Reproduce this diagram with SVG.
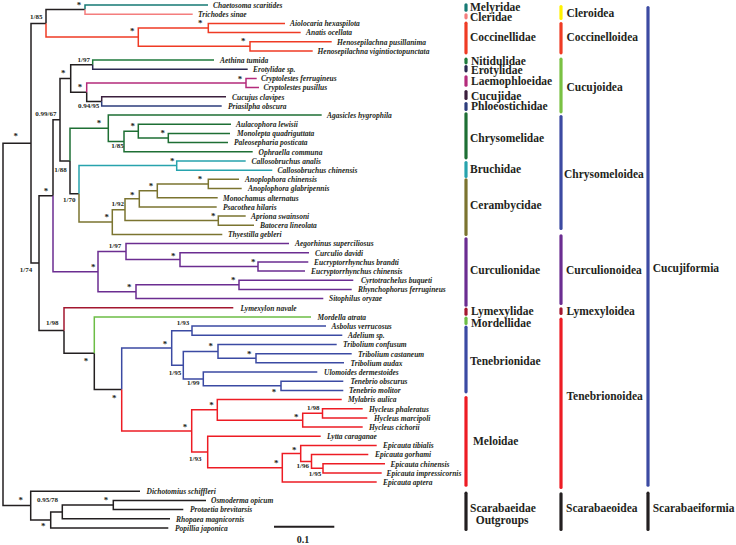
<svg xmlns="http://www.w3.org/2000/svg" width="736" height="545" viewBox="0 0 736 545">
<style>
.e{fill:none;stroke-width:1.5;stroke-linejoin:miter}
.blk{stroke:#231f20}.mel{stroke:#167a74}.cle{stroke:#f47d7d}.coc{stroke:#ef3b24}.nit{stroke:#1f7a3c}.ero{stroke:#2a2850}.lae{stroke:#b42b7b}.cuc{stroke:#3b1f3d}.phl{stroke:#2d3d7c}.chr{stroke:#1e6f34}.bru{stroke:#27a3ad}.cer{stroke:#7b7430}.cur{stroke:#6b2d91}.lym{stroke:#a3172f}.mor{stroke:#6cbd45}.ten{stroke:#3b4aa3}.mlo{stroke:#ed1c24}.yel{stroke:#fff200}.cug{stroke:#7ac143}.chb{stroke:#3c4aa2}
.bar{stroke-width:3.2;stroke-linecap:round}
.t{font-family:"Liberation Serif",serif;font-weight:bold;font-style:italic;font-size:7.5px;fill:#231f20}
.n{font-family:"Liberation Serif",serif;font-weight:bold;font-size:7px;text-anchor:middle;fill:#231f20}
.s{font-family:"Liberation Serif",serif;font-weight:bold;font-size:9px;text-anchor:middle;fill:#231f20}
.f{font-family:"Liberation Serif",serif;font-weight:bold;font-size:11.5px;fill:#231f20}
</style>
<rect width="736" height="545" fill="#ffffff"/>
<g id="connectors">
<path class="e blk" d="M3 324.4V143.25H31M3 324.4V505.6H30.7M31 143.25V23.4H46M31 143.25V263.1H39M46 23.4V9.6H85M39 263.1V195.7H53M39 263.1V330.5H64M53 195.7V119.7H60M60 119.7V78.4H70.7M60 119.7V161.05H70M70.7 78.4V64.7H92.7M70.7 78.4V92.2H86.7M86.7 92.2V101.4H101.7M70 161.05V193.8H79M64 330.5V353.2H94.3M94.3 353.2V389.4H121.7M30.7 505.6V491.3H140M30.7 505.6V519.95H50.7M50.7 519.95V511.9H62.3M50.7 519.95V528H168.3M62.3 511.9V505.05H113.3M62.3 511.9V518.8H170M113.3 505.05V500.5H206M113.3 505.05V509.6H183.3"/>
<path class="e mel" d="M85 9.6V5H208"/>
<path class="e cle" d="M85 9.6V14.2H192.7"/>
<path class="e coc" d="M46 23.4V37.1H138.3M138.3 37.1V28H208.3M138.3 37.1V46.3H250M208.3 28V23.4H285M208.3 28V32.5H300.7M250 46.3V41.7H331.7M250 46.3V50.9H312.7"/>
<path class="e nit" d="M92.7 64.7V60.1H214"/>
<path class="e ero" d="M92.7 64.7V69.2H247.7"/>
<path class="e lae" d="M86.7 92.2V83H246M246 83V78.4H256.7M246 83V87.6H259"/>
<path class="e cuc" d="M101.7 101.4V96.8H226"/>
<path class="e phl" d="M101.7 101.4V105.9H221.7"/>
<path class="e chr" d="M70 161.05V128.3H108.3M108.3 128.3V115.1H321.7M108.3 128.3V141.5H124M124 141.5V131.2H138.3M124 141.5V151.8H252.7M138.3 131.2V124.3H231M138.3 131.2V138.05H168.3M168.3 138.05V133.5H230M168.3 138.05V142.6H228"/>
<path class="e bru" d="M79 193.8V165.6H176.7M176.7 165.6V161H245.7M176.7 165.6V170.2H272.3"/>
<path class="e cer" d="M79 193.8V222.05H112.3M112.3 222.05V209.7H125M112.3 222.05V234.4H222.3M125 209.7V198.85H139.3M125 209.7V220.6H218.3M139.3 198.85V190.8H157.3M139.3 198.85V206.9H216.7M157.3 190.8V183.9H208.3M157.3 190.8V197.7H217.7M208.3 183.9V179.3H239M208.3 183.9V188.5H241.7M218.3 220.6V216H245.7M218.3 220.6V225.2H254"/>
<path class="e cur" d="M53 195.7V271.65H98M98 271.65V251.6H126M98 271.65V291.7H136M126 251.6V243.6H289M126 251.6V259.6H180M180 259.6V252.7H309M180 259.6V266.5H258M258 266.5V261.9H308.3M258 266.5V271.1H305M136 291.7V284.85H239M136 291.7V298.6H323.3M239 284.85V280.3H353.3M239 284.85V289.4H351.7"/>
<path class="e lym" d="M64 330.5V307.8H233.3"/>
<path class="e mor" d="M94.3 353.2V317H311"/>
<path class="e ten" d="M121.7 389.4V347.9H171.7M171.7 347.9V330.7H192M171.7 347.9V365.15H183.3M192 330.7V326.1H326M192 330.7V335.3H342.3M183.3 365.15V351.4H218M183.3 365.15V378.9H203.3M218 351.4V344.5H336.7M218 351.4V358.25H256M256 358.25V353.7H351.7M256 358.25V362.8H344M203.3 378.9V372H317.3M203.3 378.9V385.8H281M281 385.8V381.2H343.3M281 385.8V390.4H343.3"/>
<path class="e mlo" d="M121.7 389.4V430.9H191.7M191.7 430.9V409.85H217.3M191.7 430.9V452H207.7M217.3 409.85V399.5H341.7M217.3 409.85V420.2H302.7M302.7 420.2V413.3H322.5M302.7 420.2V427.1H362.7M322.5 413.3V408.7H362.7M322.5 413.3V417.9H367.3M207.7 452V436.2H320.7M207.7 452V467.8H282.3M282.3 467.8V453.45H300.7M282.3 467.8V482.1H376.7M300.7 453.45V445.4H376.7M300.7 453.45V461.5H311.5M311.5 461.5V454.6H368.3M311.5 461.5V468.35H323M323 468.35V463.8H385M323 468.35V472.9H381.7"/>
</g>
<g id="support">
<text class="n" x="36.3" y="19.4">1/85</text>
<text class="n" x="83.7" y="61.7">1/97</text>
<text class="n" x="88.7" y="108.4">0.94/95</text>
<text class="n" x="45.8" y="115.7">0.99/67</text>
<text class="n" x="117.5" y="148.4">1/85</text>
<text class="n" x="60.5" y="171.7">1/88</text>
<text class="n" x="69.2" y="201.7">1/70</text>
<text class="n" x="117.8" y="205.7">1/92</text>
<text class="n" x="115" y="248.1">1/97</text>
<text class="n" x="26" y="271.7">1/74</text>
<text class="n" x="52.2" y="325.1">1/98</text>
<text class="n" x="183" y="325.1">1/93</text>
<text class="n" x="175" y="375.1">1/95</text>
<text class="n" x="193.3" y="385.1">1/99</text>
<text class="n" x="313.3" y="410.1">1/98</text>
<text class="n" x="195.3" y="460.7">1/93</text>
<text class="n" x="302.7" y="468.4">1/96</text>
<text class="n" x="315" y="476.4">1/95</text>
<text class="n" x="47.5" y="502.4">0.95/78</text>
<text class="s" x="79" y="7.7">*</text>
<text class="s" x="200.3" y="26.1">*</text>
<text class="s" x="243.3" y="44.4">*</text>
<text class="s" x="132.3" y="34.4">*</text>
<text class="s" x="63.3" y="76.1">*</text>
<text class="s" x="80" y="90.4">*</text>
<text class="s" x="240" y="81.7">*</text>
<text class="s" x="99" y="126.1">*</text>
<text class="s" x="132.7" y="128.7">*</text>
<text class="s" x="162.7" y="136.1">*</text>
<text class="s" x="172.3" y="163.7">*</text>
<text class="s" x="200" y="181.7">*</text>
<text class="s" x="151" y="189.4">*</text>
<text class="s" x="132.3" y="197.7">*</text>
<text class="s" x="213.3" y="218.7">*</text>
<text class="s" x="106.7" y="220.4">*</text>
<text class="s" x="46" y="194.4">*</text>
<text class="s" x="15.7" y="139.4">*</text>
<text class="s" x="93.3" y="270.4">*</text>
<text class="s" x="173.3" y="258.7">*</text>
<text class="s" x="253.3" y="265.4">*</text>
<text class="s" x="233.3" y="282.7">*</text>
<text class="s" x="129.3" y="290.1">*</text>
<text class="s" x="86" y="364.4">*</text>
<text class="s" x="114.3" y="401.1">*</text>
<text class="s" x="165" y="347.1">*</text>
<text class="s" x="210.7" y="349.4">*</text>
<text class="s" x="249.3" y="357.1">*</text>
<text class="s" x="274" y="395.1">*</text>
<text class="s" x="211.5" y="408.4">*</text>
<text class="s" x="296.3" y="419.9">*</text>
<text class="s" x="185" y="430.1">*</text>
<text class="s" x="276.2" y="466.4">*</text>
<text class="s" x="294.2" y="452.7">*</text>
<text class="s" x="20.7" y="502.7">*</text>
<text class="s" x="106" y="502.7">*</text>
<text class="s" x="43.3" y="529.4">*</text>
</g>
<g id="leaf1"><text class="t" x="213" y="7.8">Chaetosoma scaritides</text></g>
<g id="leaf2"><text class="t" x="198" y="17">Trichodes sinae</text></g>
<g id="leaf3"><text class="t" x="290" y="26.2">Aiolocaria hexaspilota</text></g>
<g id="leaf4"><text class="t" x="306" y="35.3">Anatis ocellata</text></g>
<g id="leaf5"><text class="t" x="337" y="44.5">Henosepilachna pusillanima</text></g>
<g id="leaf6"><text class="t" x="317.5" y="53.7">Henosepilachna vigintioctopunctata</text></g>
<g id="leaf7"><text class="t" x="220" y="62.9">Aethina tumida</text></g>
<g id="leaf8"><text class="t" x="253" y="72">Erotylidae sp.</text></g>
<g id="leaf9"><text class="t" x="261" y="81.2">Cryptolestes ferrugineus</text></g>
<g id="leaf10"><text class="t" x="263.5" y="90.4">Cryptolestes pusillus</text></g>
<g id="leaf11"><text class="t" x="232" y="99.6">Cucujus clavipes</text></g>
<g id="leaf12"><text class="t" x="228" y="108.7">Priasilpha obscura</text></g>
<g id="leaf13"><text class="t" x="327" y="117.9">Agasicles hygrophila</text></g>
<g id="leaf14"><text class="t" x="236" y="127.1">Aulacophora lewisii</text></g>
<g id="leaf15"><text class="t" x="237" y="136.3">Monolepta quadriguttata</text></g>
<g id="leaf16"><text class="t" x="234" y="145.4">Paleosepharia posticata</text></g>
<g id="leaf17"><text class="t" x="258.5" y="154.6">Ophraella communa</text></g>
<g id="leaf18"><text class="t" x="251.5" y="163.8">Callosobruchus analis</text></g>
<g id="leaf19"><text class="t" x="277.5" y="173">Callosobruchus chinensis</text></g>
<g id="leaf20"><text class="t" x="245" y="182.1">Anoplophora chinensis</text></g>
<g id="leaf21"><text class="t" x="248" y="191.3">Anoplophora glabripennis</text></g>
<g id="leaf22"><text class="t" x="223" y="200.5">Monochamus alternatus</text></g>
<g id="leaf23"><text class="t" x="223" y="209.7">Psacothea hilaris</text></g>
<g id="leaf24"><text class="t" x="251" y="218.8">Apriona swainsoni</text></g>
<g id="leaf25"><text class="t" x="260" y="228">Batocera lineolata</text></g>
<g id="leaf26"><text class="t" x="228" y="237.2">Thyestilla gebleri</text></g>
<g id="leaf27"><text class="t" x="295" y="246.4">Aegorhinus superciliosus</text></g>
<g id="leaf28"><text class="t" x="315" y="255.5">Curculio davidi</text></g>
<g id="leaf29"><text class="t" x="314" y="264.7">Eucryptorrhynchus brandti</text></g>
<g id="leaf30"><text class="t" x="311" y="273.9">Eucryptorrhynchus chinensis</text></g>
<g id="leaf31"><text class="t" x="361" y="283.1">Cyrtotrachelus buqueti</text></g>
<g id="leaf32"><text class="t" x="358" y="292.2">Rhynchophorus ferrugineus</text></g>
<g id="leaf33"><text class="t" x="329" y="301.4">Sitophilus oryzae</text></g>
<g id="leaf34"><text class="t" x="240.5" y="310.6">Lymexylon navale</text></g>
<g id="leaf35"><text class="t" x="317.5" y="319.8">Mordella atrata</text></g>
<g id="leaf36"><text class="t" x="331.5" y="328.9">Asbolus verrucosus</text></g>
<g id="leaf37"><text class="t" x="348" y="338.1">Adelium sp.</text></g>
<g id="leaf38"><text class="t" x="343" y="347.3">Tribolium confusum</text></g>
<g id="leaf39"><text class="t" x="358" y="356.5">Tribolium castaneum</text></g>
<g id="leaf40"><text class="t" x="350.5" y="365.6">Tribolium audax</text></g>
<g id="leaf41"><text class="t" x="324" y="374.8">Ulomoides dermestoides</text></g>
<g id="leaf42"><text class="t" x="350.5" y="384">Tenebrio obscurus</text></g>
<g id="leaf43"><text class="t" x="349" y="393.2">Tenebrio molitor</text></g>
<g id="leaf44"><text class="t" x="348" y="402.3">Mylabris aulica</text></g>
<g id="leaf45"><text class="t" x="369" y="411.5">Hycleus phaleratus</text></g>
<g id="leaf46"><text class="t" x="374" y="420.7">Hycleus marcipoli</text></g>
<g id="leaf47"><text class="t" x="369" y="429.9">Hycleus cichorii</text></g>
<g id="leaf48"><text class="t" x="327" y="439">Lytta caraganae</text></g>
<g id="leaf49"><text class="t" x="383" y="448.2">Epicauta tibialis</text></g>
<g id="leaf50"><text class="t" x="375" y="457.4">Epicauta gorhami</text></g>
<g id="leaf51"><text class="t" x="390.5" y="466.6">Epicauta chinensis</text></g>
<g id="leaf52"><text class="t" x="386.5" y="475.7">Epicauta impressicornis</text></g>
<g id="leaf53"><text class="t" x="383" y="484.9">Epicauta aptera</text></g>
<g id="leaf54"><text class="t" x="146.5" y="494.1">Dichotomius schiffleri</text></g>
<g id="leaf55"><text class="t" x="211" y="503.3">Osmoderma opicum</text></g>
<g id="leaf56"><text class="t" x="190" y="512.4">Protaetia brevitarsis</text></g>
<g id="leaf57"><text class="t" x="176" y="521.6">Rhopaea magnicornis</text></g>
<g id="leaf58"><text class="t" x="175" y="530.8">Popillia japonica</text></g>
<g id="families">
<g id="fam-melyridae"><line class="bar mel" x1="466" y1="4.8" x2="466" y2="10.2"/><text class="f" x="470" y="11">Melyridae</text></g>
<g id="fam-cleridae"><line class="bar cle" x1="466" y1="14.8" x2="466" y2="17.8"/><text class="f" x="470" y="21">Cleridae</text></g>
<g id="fam-coccinellidae"><line class="bar coc" x1="466" y1="23.2" x2="466" y2="52.8"/><text class="f" x="470" y="40.5">Coccinellidae</text></g>
<g id="fam-nitidulidae"><line class="bar nit" x1="466" y1="59.2" x2="466" y2="62.8"/><text class="f" x="471" y="64.5">Nitidulidae</text></g>
<g id="fam-erotylidae"><line class="bar ero" x1="466" y1="66.5" x2="466" y2="70.8"/><text class="f" x="471" y="74">Erotylidae</text></g>
<g id="fam-laemophloeidae"><line class="bar lae" x1="466" y1="76.8" x2="466" y2="85.2"/><text class="f" x="471" y="84.5">Laemophloeidae</text></g>
<g id="fam-cucujidae"><line class="bar cuc" x1="466" y1="91.5" x2="466" y2="98.5"/><text class="f" x="471" y="99.5">Cucujidae</text></g>
<g id="fam-phloeostichidae"><line class="bar phl" x1="466" y1="103.5" x2="466" y2="109.5"/><text class="f" x="471" y="110">Phloeostichidae</text></g>
<g id="fam-chrysomelidae"><line class="bar chr" x1="466" y1="113.8" x2="466" y2="157.8"/><text class="f" x="470" y="142">Chrysomelidae</text></g>
<g id="fam-bruchidae"><line class="bar bru" x1="466" y1="162.5" x2="466" y2="176.5"/><text class="f" x="470" y="173">Bruchidae</text></g>
<g id="fam-cerambycidae"><line class="bar cer" x1="466" y1="179.8" x2="466" y2="234.5"/><text class="f" x="470" y="209">Cerambycidae</text></g>
<g id="fam-curculionidae"><line class="bar cur" x1="466" y1="238.8" x2="466" y2="305.2"/><text class="f" x="470" y="273.5">Curculionidae</text></g>
<g id="fam-lymexylidae"><line class="bar lym" x1="466" y1="309.2" x2="466" y2="314.2"/><text class="f" x="471" y="315">Lymexylidae</text></g>
<g id="fam-mordellidae"><line class="bar mor" x1="466" y1="318.2" x2="466" y2="323.5"/><text class="f" x="471" y="326.5">Mordellidae</text></g>
<g id="fam-tenebrionidae"><line class="bar ten" x1="466" y1="327.2" x2="466" y2="391.8"/><text class="f" x="470" y="364.5">Tenebrionidae</text></g>
<g id="fam-meloidae"><line class="bar mlo" x1="466" y1="397.5" x2="466" y2="485.2"/><text class="f" x="473" y="445">Meloidae</text></g>
<g id="fam-scarabaeidae"><line class="bar blk" x1="466" y1="493.2" x2="466" y2="529.5"/><text class="f" x="470" y="511.5">Scarabaeidae</text><text class="f" x="475.7" y="523.5">Outgroups</text></g>
</g>
<g id="superfamilies">
<g id="sf-cleroidea"><line class="bar yel" x1="561" y1="6.5" x2="561" y2="18.5"/><text class="f" x="566.5" y="16.5">Cleroidea</text></g>
<g id="sf-coccinelloidea"><line class="bar coc" x1="561" y1="23.5" x2="561" y2="52.8"/><text class="f" x="566.5" y="40.5">Coccinelloidea</text></g>
<g id="sf-cucujoidea"><line class="bar cug" x1="561" y1="59.2" x2="561" y2="111.8"/><text class="f" x="566.5" y="90.5">Cucujoidea</text></g>
<g id="sf-chrysomeloidea"><line class="bar chb" x1="561" y1="116.5" x2="561" y2="228.5"/><text class="f" x="564" y="177.6">Chrysomeloidea</text></g>
<g id="sf-curculionoidea"><line class="bar cur" x1="561" y1="235.8" x2="561" y2="303.5"/><text class="f" x="566" y="273.5">Curculionoidea</text></g>
<g id="sf-lymexyloidea"><line class="bar lym" x1="561" y1="308.8" x2="561" y2="313.5"/><text class="f" x="566.5" y="314.5">Lymexyloidea</text></g>
<g id="sf-tenebrionoidea"><line class="bar mlo" x1="561" y1="319.2" x2="561" y2="487.5"/><text class="f" x="566.5" y="400">Tenebrionoidea</text></g>
<g id="sf-scarabaeoidea"><line class="bar blk" x1="561" y1="493.8" x2="561" y2="529.5"/><text class="f" x="566" y="511.5">Scarabaeoidea</text></g>
</g>
<g id="infraorders">
<g id="io-cucujiformia"><line class="bar chb" x1="648" y1="7.5" x2="648" y2="485.2"/><text class="f" x="652.7" y="271.5">Cucujiformia</text></g>
<g id="io-scarabaeiformia"><line class="bar blk" x1="648" y1="493.2" x2="648" y2="529.5"/><text class="f" x="652.7" y="511.5">Scarabaeiformia</text></g>
</g>
<g id="scalebar">
<line x1="274" y1="526.7" x2="334.3" y2="526.7" stroke="#231f20" stroke-width="2"/>
<text x="303" y="542.5" font-family="Liberation Serif, serif" font-weight="bold" font-size="10" text-anchor="middle" fill="#231f20">0.1</text>
</g>
</svg>
